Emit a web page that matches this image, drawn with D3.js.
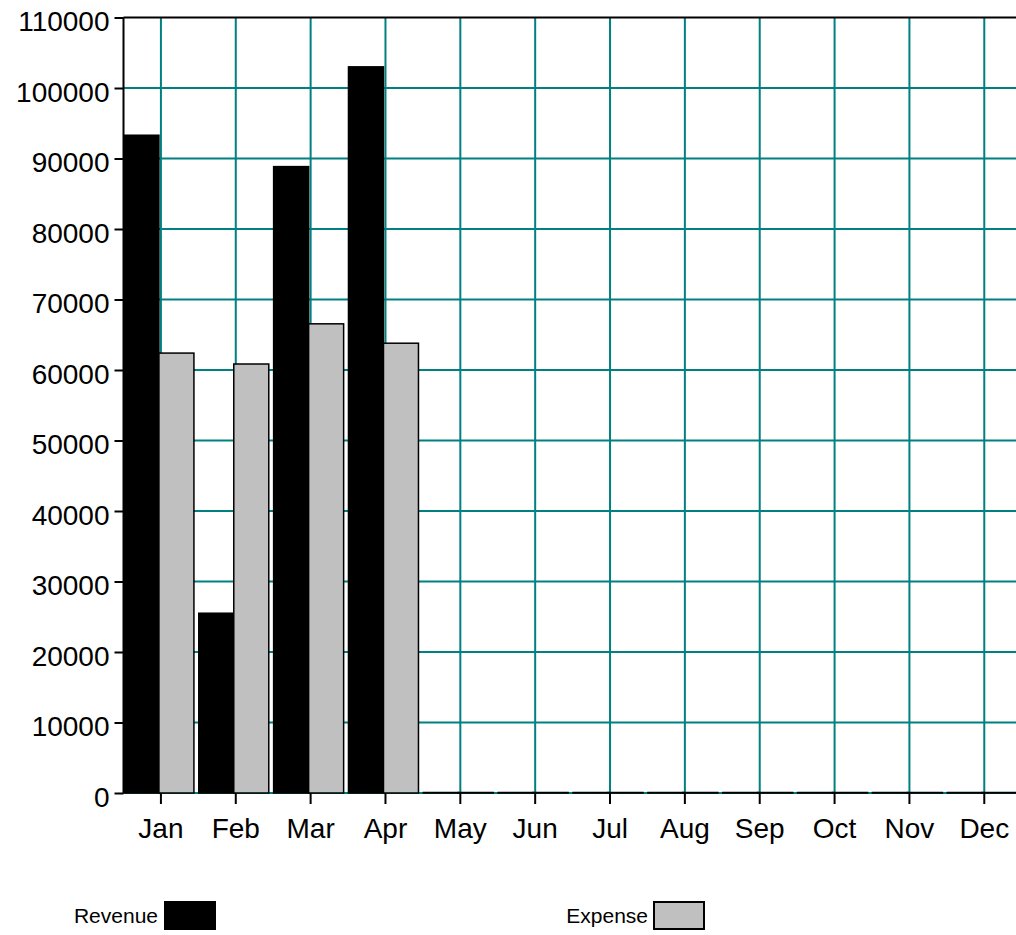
<!DOCTYPE html>
<html>
<head>
<meta charset="utf-8">
<script src="https://cdn.jsdelivr.net/npm/d3@7"></script>
<style>
  body { margin: 0; background: #fff; }
  svg { display: block; font-family: "Liberation Sans", Arial, sans-serif; }
</style>
</head>
<body>
<svg id="chart" width="1016" height="935"></svg>
<script>
// chart data
const months = ["Jan", "Feb", "Mar", "Apr", "May", "Jun", "Jul", "Aug", "Sep", "Oct", "Nov", "Dec"];
const revenue = [93300, 25500, 88850, 103000, 0, 0, 0, 0, 0, 0, 0, 0];
const expense = [62400, 60850, 66550, 63800, 0, 0, 0, 0, 0, 0, 0, 0];
const seriesNames = ["Revenue", "Expense"];
const yTicks = [0, 10000, 20000, 30000, 40000, 50000, 60000, 70000, 80000, 90000, 100000, 110000];

const svg = d3.select("#chart");
const plotLeft = 123.5, plotRight = 1021.7, plotTop = 17.5, plotBottom = 793;
const teal = "#008080";
const fills = { Revenue: "#000000", Expense: "#c0c0c0" };

const x = d3.scaleBand().domain(months).range([plotLeft, plotRight]);
const y = d3.scaleLinear().domain([0, 110000]).range([plotBottom, plotTop]);
// offsets of the two bars around the month centre
const x1 = d3.scaleBand().domain(seriesNames).range([-37, 33]);

const cx = m => x(m) + x.bandwidth() / 2;

// horizontal grid
svg.append("g")
  .selectAll("line")
  .data(yTicks.slice(0, -1))
  .enter().append("line")
  .attr("x1", plotLeft).attr("x2", 1016)
  .attr("y1", d => y(d)).attr("y2", d => y(d))
  .style("stroke", teal).style("stroke-width", 2);

// vertical grid at month centres
svg.append("g")
  .selectAll("line")
  .data(months)
  .enter().append("line")
  .attr("x1", d => cx(d)).attr("x2", d => cx(d))
  .attr("y1", plotTop).attr("y2", plotBottom)
  .style("stroke", teal).style("stroke-width", 2);

// bars (zero values still get a thin outline on the baseline)
const rows = months.map((m, i) => ({ month: m, Revenue: revenue[i], Expense: expense[i] }));
const groups = svg.append("g")
  .selectAll("g")
  .data(rows)
  .enter().append("g")
  .attr("transform", d => `translate(${cx(d.month)},0)`);

groups.selectAll("rect")
  .data(d => seriesNames.map(s => ({ key: s, value: d[s] })))
  .enter().append("rect")
  .attr("x", d => x1(d.key))
  .attr("width", x1.bandwidth())
  .attr("y", d => Math.min(y(d.value), y(0) - 0.5))
  .attr("height", d => Math.max(y(0) - y(d.value), 0.5))
  .style("fill", d => fills[d.key])
  .style("stroke", "#000")
  .style("stroke-width", 1.5);

// top border and left axis line
svg.append("line")
  .attr("x1", plotLeft).attr("x2", 1016).attr("y1", plotTop).attr("y2", plotTop)
  .style("stroke", "#000").style("stroke-width", 2);

const yAxis = svg.append("g")
  .attr("transform", `translate(${plotLeft},0)`)
  .call(d3.axisLeft(y).tickValues(yTicks).tickSize(9).tickPadding(5).tickFormat(d3.format("d")));
yAxis.select(".domain").attr("d", `M0,${plotTop}V${plotBottom}`).style("stroke-width", 2);
yAxis.selectAll(".tick line").style("stroke-width", 2);
yAxis.selectAll("text")
  .attr("dy", "0.47em")
  .style("font-size", "28px")
  .style("fill", "#000");

const xAxis = svg.append("g")
  .attr("transform", `translate(0,${plotBottom})`)
  .call(d3.axisBottom(x).tickSize(11).tickPadding(14));
xAxis.select(".domain").remove();
xAxis.selectAll(".tick line").style("stroke-width", 2);
xAxis.selectAll("text")
  .style("font-size", "28px")
  .style("fill", "#000");

// legend
const legendPos = [{ tx: 158, bx: 165 }, { tx: 648, bx: 654 }];
const legend = svg.append("g")
  .selectAll("g")
  .data(seriesNames)
  .enter().append("g");
legend.append("text")
  .attr("x", (d, i) => legendPos[i].tx)
  .attr("y", 923)
  .attr("text-anchor", "end")
  .style("font-size", "21px")
  .text(d => d);
legend.append("rect")
  .attr("x", (d, i) => legendPos[i].bx)
  .attr("y", 902)
  .attr("width", 50)
  .attr("height", 27)
  .style("fill", d => fills[d])
  .style("stroke", "#000")
  .style("stroke-width", 2);
</script>
</body>
</html>
